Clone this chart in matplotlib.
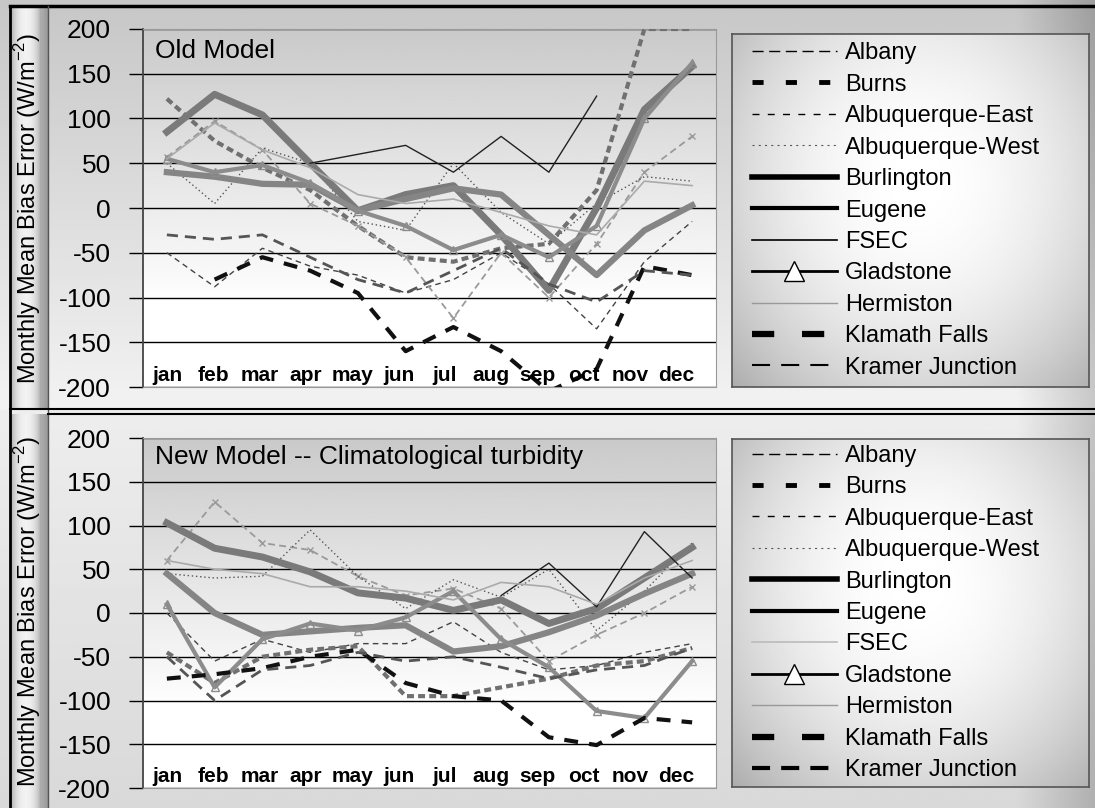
import numpy as np
import matplotlib.pyplot as plt
from matplotlib.lines import Line2D

plt.rcParams['font.family'] = ['Liberation Sans', 'DejaVu Sans']
plt.rcParams['mathtext.fontset'] = 'custom'
plt.rcParams['mathtext.rm'] = 'Liberation Sans'
plt.rcParams['lines.scale_dashes'] = False
plt.rcParams['axes.unicode_minus'] = False

nan = np.nan
months = ["jan", "feb", "mar", "apr", "may", "jun", "jul", "aug", "sep", "oct", "nov", "dec"]
stations = ["Albany", "Burns", "Albuquerque-East", "Albuquerque-West", "Burlington", "Eugene",
            "FSEC", "Gladstone", "Hermiston", "Klamath Falls", "Kramer Junction"]

# Old Model (W/m2), jan..dec
old_albany = [-50, -88, -45, -65, -75, -95, -80, -50, -85, -135, -60, -15]
old_burns = [122, 75, 45, 20, -20, -55, -60, -45, -40, 20, 200, 200]
old_abq_east = [57, 97, 65, 5, -20, -55, -123, -50, -100, -40, 40, 80]
old_abq_west = [50, 5, 67, 50, -15, -25, 50, -5, -40, 5, 35, 30]
old_burlington = [85, 127, 104, 50, -3, 15, 25, -30, -92, 0, 110, 158]
old_eugene = [40, 35, 27, 26, -3, 10, 22, 15, -30, -75, -25, 3]
old_fsec = [nan, nan, nan, 50, 60, 70, 40, 80, 40, 125, nan, nan]
old_gladstone = [55, 40, 48, 28, -3, -20, -47, -30, -55, -20, 100, 162]
old_hermiston = [55, 95, 65, 45, 15, 5, 10, -5, -20, -30, 30, 25]
old_klamath = [nan, -80, -55, -70, -95, -160, -133, -160, -205, -180, -65, -75]
old_kramer = [-30, -35, -30, -55, -80, -95, -70, -45, -85, -105, -70, -75]

# New Model -- climatological turbidity
new_albany = [0, -55, -30, -45, -35, -35, -10, -45, -65, -60, -45, -35]
new_burns = [-45, -80, -50, -42, -38, -95, -95, -85, -75, -60, -55, -40]
new_abq_east = [60, 127, 80, 72, 42, 20, 28, 5, -55, -25, 0, 30]
new_abq_west = [45, 40, 42, 95, 42, 5, 38, 18, 50, -20, 25, 80]
new_burlington = [103, 74, 64, 47, 23, 17, 3, 15, -12, 5, 40, 75]
new_eugene = [45, 0, -25, -21, -17, -14, -44, -38, -22, -3, 22, 45]
new_fsec = [nan, nan, nan, nan, nan, nan, nan, 20, 57, 7, 93, 40]
new_gladstone = [10, -85, -30, -12, -20, -5, 25, -30, -62, -112, -120, -55]
new_hermiston = [60, 50, 45, 30, 30, 25, 15, 35, 30, 10, 40, 60]
new_klamath = [-75, -70, -63, -50, -42, -80, -95, -100, -142, -151, -120, -125]
new_kramer = [-50, -100, -65, -60, -45, -55, -50, -62, -75, -65, -60, -40]

old_series = [old_albany, old_burns, old_abq_east, old_abq_west, old_burlington, old_eugene,
              old_fsec, old_gladstone, old_hermiston, old_klamath, old_kramer]
new_series = [new_albany, new_burns, new_abq_east, new_abq_west, new_burlington, new_eugene,
              new_fsec, new_gladstone, new_hermiston, new_klamath, new_kramer]

# how the lines look inside the plot (scanned, greyish)
plot_styles = [
    dict(color='#444444', lw=1, dashes=(4, 3)),
    dict(color='#707070', lw=3, dashes=(5, 3)),
    dict(color='#9a9a9a', lw=1.3, dashes=(5, 3), marker='x', ms=5),
    dict(color='#555555', lw=1, dashes=(1, 2)),
    dict(color='#7a7a7a', lw=5),
    dict(color='#858585', lw=4.5),
    dict(color='#222222', lw=1),
    dict(color='#8c8c8c', lw=3, marker='^', mfc='none', ms=6),
    dict(color='#aaaaaa', lw=1.2),
    dict(color='#111111', lw=3, dashes=(10, 8)),
    dict(color='#555555', lw=2, dashes=(8, 5)),
]

# legend handle styles (top, bottom)
def legend_handles(bottom):
    st = [
        dict(color='k', lw=1, dashes=(8, 4)),
        dict(color='k', lw=3.5, dashes=(8, 16)),
        dict(color='k', lw=1, dashes=(5, 6)),
        dict(color='#555555', lw=0.8, dashes=(1.5, 3)),
        dict(color='k', lw=4),
        dict(color='k', lw=3),
        dict(color='#bbbbbb' if bottom else 'k', lw=1.2),
        dict(color='k', lw=2, marker='^', mfc='white', mec='k', ms=14, mew=1),
        dict(color='#999999', lw=1),
        dict(color='k', lw=4.5, dashes=(16, 20)),
        dict(color='k', lw=3 if bottom else 1.5, dashes=(13, 8)),
    ]
    return [Line2D([], [], **s) for s in st]

W, H = 1095, 808


def box(x0, y0, x1, y1):
    return [x0 / W, 1 - y1 / H, (x1 - x0) / W, (y1 - y0) / H]


fig = plt.figure(figsize=(W / 100, H / 100), dpi=100)
fig.patch.set_facecolor('white')

# background shading of the whole sheet
bg = fig.add_axes([0, 0, 1, 1], zorder=-10)
yy, xx = np.mgrid[0:1:300j, 0:1:400j]
shade = np.where(yy < 0.507,
                 0.78 + 0.17 * (yy / 0.507),
                 0.93 - 0.08 * ((yy - 0.507) / 0.493))
shade = shade - 0.16 * np.clip((xx - 0.93) / 0.07, 0, 1)
bg.imshow(shade, cmap='gray', vmin=0, vmax=1, extent=[0, 1, 0, 1], aspect='auto', origin='upper')
bg.set_axis_off()

# left strip holding the y-axis title
for (y0, y1) in [(8, 409), (414, 808)]:
    sx = fig.add_axes(box(10, y0, 48, y1), zorder=-5)
    u = np.linspace(0, 1, 60)
    prof = 0.55 + 0.4 * np.sin(np.pi * np.clip(u * 1.2, 0, 1)) ** 0.5
    prof = np.where(u > 0.83, 0.68 - 0.08 * (u - 0.83) / 0.17, prof)
    sx.imshow(prof[None, :], cmap='gray', vmin=0, vmax=1, extent=[0, 1, 0, 1], aspect='auto')
    sx.set_axis_off()
    fig.text(28 / W, 1 - (y0 + y1) / 2 / H, r'Monthly Mean Bias Error (W/m$^{\mathregular{-2}}$)',
             rotation=90, ha='center', va='center', fontsize=17)

x = np.arange(1, 13)
panels = [
    (box(143, 29, 716, 387), box(732, 34, 1089, 387), old_series, 'Old Model', False),
    (box(143, 438, 716, 788), box(732, 439, 1089, 787), new_series,
     'New Model -- Climatological turbidity', True),
]

for axbox, legbox, series, title, bottom in panels:
    ax = fig.add_axes(axbox)
    grad = np.clip(np.linspace(0.79, 1.06, 200), 0, 1)[:, None]
    ax.imshow(grad, cmap='gray', vmin=0, vmax=1, extent=[0.5, 12.5, -200, 200],
              aspect='auto', origin='upper', zorder=0)
    for vals, st in zip(series, plot_styles):
        ax.plot(x, vals, zorder=3, **st)
    ax.set_xlim(0.5, 12.5)
    ax.set_ylim(-200, 200)
    ax.set_yticks(range(-200, 201, 50))
    ax.tick_params(axis='y', length=10, width=1, labelsize=19, pad=13)
    ax.set_xticks([])
    ax.grid(axis='y', color='k', lw=1, zorder=1)
    ax.spines['left'].set_color('#444444')
    ax.spines['left'].set_linewidth(1.3)
    for s in ['top', 'right', 'bottom']:
        ax.spines[s].set_color('#999999')
    ax.text(0.75, 175 if not bottom else 178, title, fontsize=19, ha='left', va='center', zorder=5)
    for i, m in enumerate(months):
        ax.text(i + 1 - 0.03 * i, -187, m, fontsize=15, fontweight='bold',
                ha='center', va='center', zorder=5)

    lax = fig.add_axes(legbox)
    ly, lx = np.mgrid[0:1:200j, 0:1:200j]
    r = np.sqrt(((lx - 0.52) / 0.7) ** 2 + ((ly - 0.42) / 0.8) ** 2)
    lax.imshow(np.clip(1.0 - 0.3 * r ** 2, 0, 1), cmap='gray', vmin=0, vmax=1,
               extent=[0, 1, 0, 1], aspect='auto')
    lax.set_xticks([])
    lax.set_yticks([])
    for s in lax.spines.values():
        s.set_color('#555555')
        s.set_linewidth(1.2)
    lax.legend(legend_handles(bottom), stations, loc='center left', bbox_to_anchor=(0.055, 0.5),
               frameon=False, fontsize=17, handlelength=3.6, handletextpad=0.35,
               labelspacing=0.4, borderpad=0, borderaxespad=0, numpoints=1)

# frame lines
def fline(xs, ys, **kw):
    fig.add_artist(Line2D([v / W for v in xs], [1 - v / H for v in ys], **kw))

fline([10, 1095], [6, 6], color='k', lw=2.5)
fline([10, 10], [6, 808], color='k', lw=2)
fline([48, 48], [6, 808], color='#555555', lw=1)
fline([10, 1095], [409, 409], color='k', lw=1.5)
fline([48, 1095], [414, 414], color='k', lw=1.5)

fig.savefig('out.png', dpi=100)
